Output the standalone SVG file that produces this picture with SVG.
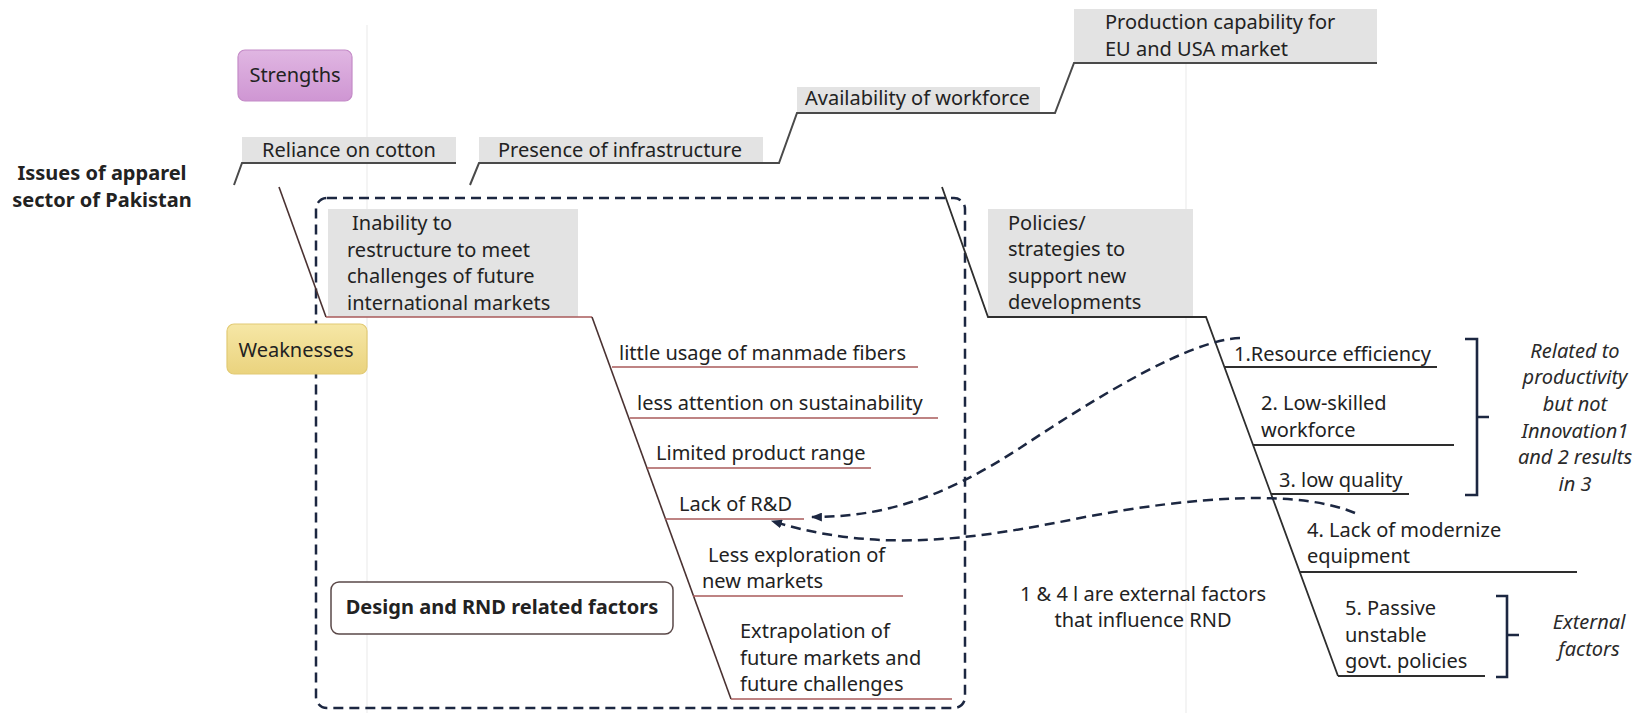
<svg xmlns="http://www.w3.org/2000/svg" width="1645" height="713" viewBox="0 0 1645 713">
  <style>
    text { font-family: "Noto Sans", "Open Sans", "Liberation Sans", sans-serif; font-size: 20px; fill: #222; }
    .bold { font-weight: bold; }
    .ital { font-style: italic; fill: #2a2a2a; }
    .mid { text-anchor: middle; }
    .tag { fill: #e3e3e3; }
    .top-line { fill: none; stroke: #4a4a4a; stroke-width: 2; }
    .weak-spine { fill: none; stroke: #4a3232; stroke-width: 1.6; }
    .weak-branch { fill: none; stroke: #a85a5a; stroke-width: 1.6; }
    .pol-spine { fill: none; stroke: #2e2e2e; stroke-width: 1.8; }
    .bracket { fill: none; stroke: #1c2741; stroke-width: 2.6; }
    .flow { fill: none; stroke: #1c2741; stroke-width: 2.5; stroke-dasharray: 10 6; }
    .guide { stroke: #f0f0f0; stroke-width: 1.5; }
  </style>
  <defs>
    <linearGradient id="purple" x1="0" y1="0" x2="0" y2="1">
      <stop offset="0" stop-color="#e0b6e2"/>
      <stop offset="1" stop-color="#cf96d3"/>
    </linearGradient>
    <linearGradient id="yellow" x1="0" y1="0" x2="0" y2="1">
      <stop offset="0" stop-color="#f6e7a6"/>
      <stop offset="1" stop-color="#ead37e"/>
    </linearGradient>
    <marker id="head" viewBox="0 0 10 8" refX="9" refY="4" markerWidth="11" markerHeight="9" markerUnits="userSpaceOnUse" orient="auto">
      <path d="M0,0 L10,4 L0,8 z" fill="#1c2741"/>
    </marker>
  </defs>

  <rect width="1645" height="713" fill="#ffffff"/>
  <!-- faint page guides -->
  <line class="guide" x1="367" y1="25" x2="367" y2="713"/>
  <line class="guide" x1="1186" y1="63" x2="1186" y2="713"/>

  <!-- title -->
  <g id="title">
    <text class="bold mid" x="102" y="180">Issues of apparel</text>
    <text class="bold mid" x="102" y="207">sector of Pakistan</text>
  </g>

  <!-- dashed grouping frame for design / RND factors -->
  <g id="rnd-frame">
    <rect x="316" y="198" width="649" height="510" rx="11" fill="none" stroke="#1c2741" stroke-width="2.5" stroke-dasharray="10 6"/>
  </g>

  <g id="strengths">
    <rect x="238" y="50" width="114" height="51" rx="7" fill="url(#purple)" stroke="#c48bc7" stroke-width="1.2"/>
    <text class="mid" x="295" y="82">Strengths</text>
  </g>

  <g id="weaknesses">
    <rect x="227" y="324" width="140" height="50" rx="7" fill="url(#yellow)" stroke="#e2ca74" stroke-width="1.2"/>
    <text class="mid" x="296" y="357">Weaknesses</text>
  </g>

  <!-- strength items (grey tags) -->
  <g id="reliance">
    <rect class="tag" x="242" y="137" width="214" height="26"/>
    <text x="262" y="157">Reliance on cotton</text>
  </g>
  <g id="infrastructure">
    <rect class="tag" x="479" y="137" width="284" height="26"/>
    <text x="498" y="157">Presence of infrastructure</text>
  </g>
  <g id="workforce">
    <rect class="tag" x="797" y="87" width="243" height="26"/>
    <text x="805" y="105">Availability of workforce</text>
  </g>
  <g id="capability">
    <rect class="tag" x="1074" y="9" width="303" height="54"/>
    <text x="1105" y="29">Production capability for</text>
    <text x="1105" y="56">EU and USA market</text>
  </g>

  <!-- weakness heads -->
  <g id="restructure">
    <rect class="tag" x="328" y="209" width="250" height="108"/>
    <text x="352" y="230">Inability to</text>
    <text x="347" y="257">restructure to meet</text>
    <text x="347" y="283">challenges of future</text>
    <text x="347" y="310">international markets</text>
  </g>
  <g id="policies">
    <rect class="tag" x="988" y="209" width="205" height="108"/>
    <text x="1008" y="230">Policies/</text>
    <text x="1008" y="256">strategies to</text>
    <text x="1008" y="283">support new</text>
    <text x="1008" y="309">developments</text>
  </g>

  <!-- design / RND factor items -->
  <g id="fibers"><text x="619" y="360">little usage of manmade fibers</text></g>
  <g id="sustainability"><text x="637" y="410">less attention on sustainability</text></g>
  <g id="product-range"><text x="656" y="460">Limited product range</text></g>
  <g id="rnd"><text x="679" y="511">Lack of R&amp;D</text></g>
  <g id="new-markets">
    <text x="708" y="562">Less exploration of</text>
    <text x="702" y="588">new markets</text>
  </g>
  <g id="extrapolation">
    <text x="740" y="638">Extrapolation of</text>
    <text x="740" y="665">future markets and</text>
    <text x="740" y="691">future challenges</text>
  </g>
  <g id="rnd-label">
    <rect x="331" y="582" width="342" height="52" rx="8" fill="#ffffff" stroke="#5a4848" stroke-width="1.5"/>
    <text class="bold mid" x="502" y="614">Design and RND related factors</text>
  </g>

  <!-- productivity items -->
  <g id="resource"><text x="1234" y="361">1.Resource efficiency</text></g>
  <g id="low-skilled">
    <text x="1261" y="410">2. Low-skilled</text>
    <text x="1261" y="437">workforce</text>
  </g>
  <g id="low-quality"><text x="1279" y="487">3. low quality</text></g>
  <g id="equipment">
    <text x="1307" y="537">4. Lack of modernize</text>
    <text x="1307" y="563">equipment</text>
  </g>
  <g id="govt-policies">
    <text x="1345" y="615">5. Passive</text>
    <text x="1345" y="642">unstable</text>
    <text x="1345" y="668">govt. policies</text>
  </g>

  <!-- notes -->
  <g id="note-external">
    <text class="mid" x="1143" y="601">1 &amp; 4 l are external factors</text>
    <text class="mid" x="1143" y="627">that influence RND</text>
  </g>
  <g id="note-productivity">
    <path class="bracket" d="M1465,339 H1477 V495 H1465 M1477,417 H1489"/>
    <text class="ital mid" x="1575" y="358">Related to</text>
    <text class="ital mid" x="1575" y="384">productivity</text>
    <text class="ital mid" x="1575" y="411">but not</text>
    <text class="ital mid" x="1575" y="438">Innovation1</text>
    <text class="ital mid" x="1575" y="464">and 2 results</text>
    <text class="ital mid" x="1575" y="491">in 3</text>
  </g>
  <g id="note-external-factors">
    <path class="bracket" d="M1496,596 H1507 V677 H1496 M1507,635 H1519"/>
    <text class="ital mid" x="1589" y="629">External</text>
    <text class="ital mid" x="1589" y="656">factors</text>
  </g>

  <!-- connectors -->
  <g id="connectors">
    <!-- strengths chain -->
    <polyline class="top-line" points="234,185 242,163 456,163"/>
    <polyline class="top-line" points="470,185 479,163 779,163 797,113 1055,113 1074,63 1377,63"/>

    <!-- design / RND fishbone -->
    <polyline class="weak-spine" points="279,187 326,317"/>
    <line class="weak-branch" x1="326" y1="317" x2="592" y2="317"/>
    <line class="weak-spine" x1="592" y1="317" x2="731" y2="699"/>
    <line class="weak-branch" x1="612" y1="367" x2="918" y2="367"/>
    <line class="weak-branch" x1="630" y1="418" x2="938" y2="418"/>
    <line class="weak-branch" x1="647" y1="468" x2="871" y2="468"/>
    <line class="weak-branch" x1="665" y1="519" x2="804" y2="519"/>
    <line class="weak-branch" x1="693" y1="596" x2="903" y2="596"/>
    <line class="weak-branch" x1="731" y1="699" x2="952" y2="699"/>

    <!-- policies fishbone -->
    <polyline class="pol-spine" points="942,187 988,317 1206,317 1338,676"/>
    <line class="pol-spine" x1="1225" y1="367" x2="1437" y2="367"/>
    <line class="pol-spine" x1="1253" y1="445" x2="1454" y2="445"/>
    <line class="pol-spine" x1="1271" y1="494" x2="1409" y2="494"/>
    <line class="pol-spine" x1="1300" y1="572" x2="1577" y2="572"/>
    <line class="pol-spine" x1="1338" y1="676" x2="1485" y2="676"/>

    <!-- influence arrows -->
    <path class="flow" d="M1240,338 C1190,340 1100,395 1020,448 C940,500 880,517 812,517" marker-end="url(#head)"/>
    <path class="flow" d="M1355,513 C1300,490 1200,495 1080,518 C980,538 880,555 772,521" marker-end="url(#head)"/>
  </g>
</svg>
